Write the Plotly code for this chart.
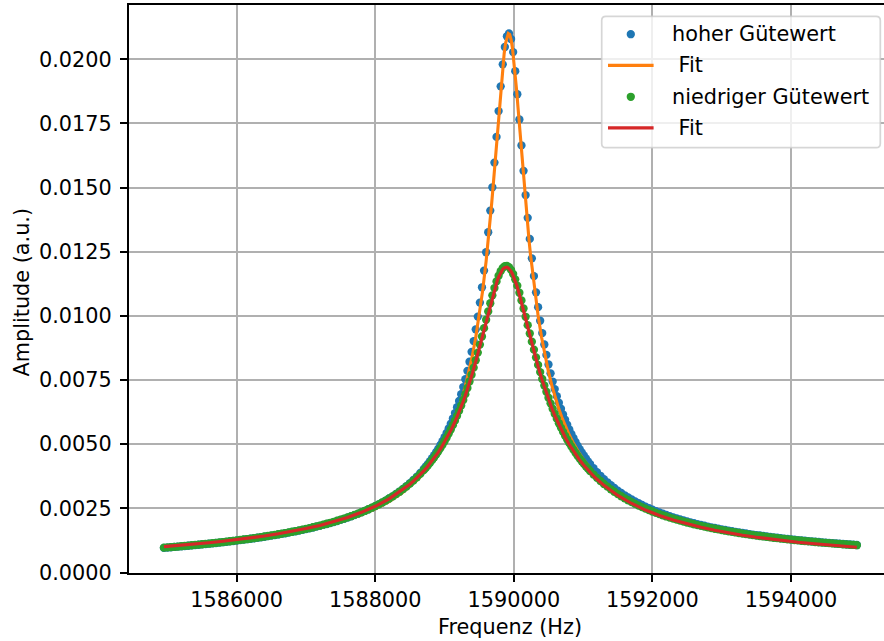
import plotly.graph_objects as go

# ---------------- data ----------------
# frequency sweep of the measurement (Hz): 50 Hz steps in the tails, 30 Hz around the resonance
FREQ_DATA = (list(range(1584950, 1588651, 50))
             + list(range(1588700, 1591101, 30))
             + list(range(1591150, 1594951, 50)))

AMP_HIGH_Q = [
    0.000962,
    0.000973, 0.000984, 0.000995, 0.001007, 0.001019, 0.001031, 0.001043, 0.001055, 0.001068, 0.001081,
    0.001094, 0.001108, 0.001122, 0.001136, 0.001150, 0.001165, 0.001180, 0.001196, 0.001212, 0.001228,
    0.001245, 0.001262, 0.001279, 0.001297, 0.001316, 0.001334, 0.001354, 0.001374, 0.001394, 0.001415,
    0.001437, 0.001459, 0.001482, 0.001506, 0.001530, 0.001555, 0.001581, 0.001607, 0.001635, 0.001663,
    0.001692, 0.001722, 0.001754, 0.001786, 0.001820, 0.001854, 0.001890, 0.001928, 0.001967, 0.002007,
    0.002049, 0.002093, 0.002138, 0.002186, 0.002235, 0.002287, 0.002341, 0.002398, 0.002457, 0.002520,
    0.002585, 0.002654, 0.002726, 0.002803, 0.002883, 0.002968, 0.003059, 0.003155, 0.003256, 0.003365,
    0.003481, 0.003604, 0.003737, 0.003879,
    0.004033, 0.004131, 0.004233, 0.004341, 0.004454, 0.004573, 0.004698, 0.004830, 0.004969, 0.005117,
    0.005273, 0.005438, 0.005614, 0.005801, 0.006000, 0.006213, 0.006440, 0.006684, 0.006946, 0.007227,
    0.007531, 0.007858, 0.008214, 0.008599, 0.009018, 0.009475, 0.009973, 0.010518, 0.011115, 0.011767,
    0.012481, 0.013259, 0.014104, 0.015012, 0.015975, 0.016976, 0.017982, 0.018947, 0.019804, 0.020479,
    0.020897, 0.021006, 0.020791, 0.020281, 0.019537, 0.018637, 0.017653, 0.016644, 0.015654, 0.014708,
    0.013822, 0.013000, 0.012244, 0.011552, 0.010919, 0.010341, 0.009813, 0.009330, 0.008887, 0.008480,
    0.008106, 0.007761, 0.007442, 0.007147, 0.006873, 0.006618, 0.006381, 0.006159, 0.005952, 0.005758,
    0.005575, 0.005404, 0.005242, 0.005090, 0.004946, 0.004810, 0.004681, 0.004559, 0.004442, 0.004332,
    0.004227,
    0.004062, 0.003910, 0.003769, 0.003637, 0.003515, 0.003400, 0.003293, 0.003192, 0.003098, 0.003009,
    0.002925, 0.002845, 0.002770, 0.002699, 0.002631, 0.002567, 0.002506, 0.002448, 0.002392, 0.002339,
    0.002289, 0.002240, 0.002194, 0.002150, 0.002107, 0.002066, 0.002027, 0.001990,
    0.001953, 0.001919, 0.001885, 0.001853, 0.001822, 0.001791, 0.001762, 0.001734, 0.001707, 0.001681,
    0.001656, 0.001631, 0.001607, 0.001584, 0.001562, 0.001540, 0.001519, 0.001499, 0.001479, 0.001460,
    0.001441, 0.001423, 0.001405, 0.001388, 0.001371, 0.001355, 0.001339, 0.001323, 0.001308, 0.001294,
    0.001279, 0.001265, 0.001252, 0.001238, 0.001225, 0.001213, 0.001200, 0.001188, 0.001177, 0.001165,
    0.001154, 0.001143, 0.001132, 0.001121, 0.001111, 0.001101, 0.001091, 0.001082,
    0.001072,
]

AMP_LOW_Q = [
    0.000967,
    0.000978, 0.000989, 0.001001, 0.001012, 0.001024, 0.001036, 0.001048, 0.001061, 0.001074, 0.001087,
    0.001100, 0.001114, 0.001128, 0.001142, 0.001157, 0.001171, 0.001187, 0.001202, 0.001218, 0.001235,
    0.001251, 0.001269, 0.001286, 0.001304, 0.001323, 0.001342, 0.001361, 0.001381, 0.001402, 0.001423,
    0.001445, 0.001467, 0.001490, 0.001514, 0.001538, 0.001563, 0.001589, 0.001616, 0.001643, 0.001672,
    0.001701, 0.001731, 0.001763, 0.001795, 0.001829, 0.001863, 0.001900, 0.001937, 0.001976, 0.002016,
    0.002058, 0.002102, 0.002147, 0.002194, 0.002244, 0.002295, 0.002349, 0.002405, 0.002464, 0.002525,
    0.002590, 0.002658, 0.002729, 0.002804, 0.002883, 0.002967, 0.003055, 0.003148, 0.003247, 0.003351,
    0.003463, 0.003581, 0.003708, 0.003843,
    0.003987, 0.004079, 0.004175, 0.004275, 0.004379, 0.004488, 0.004602, 0.004722, 0.004847, 0.004978,
    0.005116, 0.005261, 0.005413, 0.005573, 0.005741, 0.005918, 0.006104, 0.006299, 0.006506, 0.006723,
    0.006951, 0.007191, 0.007443, 0.007707, 0.007983, 0.008272, 0.008571, 0.008881, 0.009199, 0.009523,
    0.009850, 0.010175, 0.010494, 0.010800, 0.011086, 0.011344, 0.011566, 0.011743, 0.011870, 0.011939,
    0.011950, 0.011900, 0.011793, 0.011632, 0.011425, 0.011179, 0.010903, 0.010603, 0.010288, 0.009965,
    0.009639, 0.009314, 0.008995, 0.008683, 0.008381, 0.008089, 0.007810, 0.007542, 0.007287, 0.007044,
    0.006812, 0.006592, 0.006383, 0.006185, 0.005996, 0.005817, 0.005647, 0.005485, 0.005331, 0.005185,
    0.005045, 0.004913, 0.004786, 0.004665, 0.004550, 0.004440, 0.004335, 0.004234, 0.004138, 0.004046,
    0.003957,
    0.003818, 0.003688, 0.003566, 0.003451, 0.003344, 0.003243, 0.003147, 0.003057, 0.002972, 0.002892,
    0.002816, 0.002744, 0.002675, 0.002610, 0.002547, 0.002488, 0.002432, 0.002378, 0.002326, 0.002277,
    0.002229, 0.002184, 0.002141, 0.002099, 0.002059, 0.002020, 0.001983, 0.001948,
    0.001913, 0.001880, 0.001848, 0.001817, 0.001788, 0.001759, 0.001731, 0.001704, 0.001678, 0.001653,
    0.001629, 0.001605, 0.001582, 0.001560, 0.001539, 0.001518, 0.001497, 0.001478, 0.001459, 0.001440,
    0.001422, 0.001404, 0.001387, 0.001371, 0.001354, 0.001338, 0.001323, 0.001308, 0.001293, 0.001279,
    0.001265, 0.001252, 0.001238, 0.001226, 0.001213, 0.001201, 0.001189, 0.001177, 0.001165, 0.001154,
    0.001143, 0.001132, 0.001122, 0.001112, 0.001101, 0.001092, 0.001082, 0.001073,
    0.001063,
]

# frequencies at which the fit curves are drawn
FREQ_FIT = ([1584950]
            + list(range(1585000, 1588401, 200))
            + list(range(1588500, 1589601, 50))
            + list(range(1589620, 1590241, 20))
            + list(range(1590300, 1591301, 50))
            + list(range(1591500, 1594901, 200))
            + [1594950])

FIT_HIGH_Q = [
    0.000920,
    0.000931, 0.000974, 0.001022, 0.001073, 0.001130, 0.001191, 0.001259, 0.001335, 0.001419, 0.001514,
    0.001621, 0.001744, 0.001885, 0.002049, 0.002244, 0.002478, 0.002765, 0.003123,
    0.003339, 0.003458, 0.003586, 0.003723, 0.003870, 0.004030, 0.004203, 0.004391, 0.004596, 0.004820,
    0.005066, 0.005338, 0.005640, 0.005975, 0.006351, 0.006775, 0.007255, 0.007802, 0.008431, 0.009156,
    0.010000, 0.010985, 0.012137,
    0.012650, 0.013195, 0.013772, 0.014380, 0.015019, 0.015684, 0.016371, 0.017071, 0.017773, 0.018460,
    0.019112, 0.019707, 0.020218, 0.020619, 0.020887, 0.021005, 0.020966, 0.020771, 0.020435, 0.019976,
    0.019421, 0.018794, 0.018122, 0.017426, 0.016725, 0.016030, 0.015354, 0.014702, 0.014078, 0.013486,
    0.012926, 0.012397,
    0.010994, 0.010010, 0.009168, 0.008443, 0.007816, 0.007270, 0.006791, 0.006369, 0.005994, 0.005659,
    0.005359, 0.005088, 0.004843, 0.004620, 0.004416, 0.004230, 0.004058, 0.003900, 0.003753, 0.003617,
    0.003491,
    0.003063, 0.002730, 0.002463, 0.002244, 0.002063, 0.001909, 0.001778, 0.001664, 0.001565, 0.001478,
    0.001401, 0.001332, 0.001271, 0.001215, 0.001165, 0.001119, 0.001078, 0.001040,
    0.001030,
]

FIT_LOW_Q = [
    0.001008,
    0.001018, 0.001061, 0.001108, 0.001159, 0.001216, 0.001277, 0.001346, 0.001422, 0.001507, 0.001603,
    0.001711, 0.001836, 0.001979, 0.002147, 0.002345, 0.002581, 0.002870, 0.003229,
    0.003442, 0.003559, 0.003686, 0.003818, 0.003961, 0.004114, 0.004279, 0.004456, 0.004648, 0.004854,
    0.005079, 0.005322, 0.005586, 0.005874, 0.006187, 0.006529, 0.006901, 0.007306, 0.007744, 0.008217,
    0.008720, 0.009249, 0.009792,
    0.010010, 0.010226, 0.010437, 0.010644, 0.010842, 0.011031, 0.011207, 0.011368, 0.011512, 0.011636,
    0.011738, 0.011817, 0.011870, 0.011897, 0.011897, 0.011870, 0.011817, 0.011738, 0.011636, 0.011512,
    0.011368, 0.011207, 0.011031, 0.010842, 0.010644, 0.010437, 0.010226, 0.010010, 0.009792, 0.009574,
    0.009357, 0.009142,
    0.008515, 0.008024, 0.007565, 0.007140, 0.006749, 0.006389, 0.006059, 0.005756, 0.005478, 0.005222,
    0.004987, 0.004770, 0.004569, 0.004384, 0.004211, 0.004051, 0.003902, 0.003763, 0.003633, 0.003511,
    0.003397,
    0.003004, 0.002690, 0.002434, 0.002222, 0.002043, 0.001891, 0.001759, 0.001645, 0.001544, 0.001455,
    0.001375, 0.001304, 0.001240, 0.001181, 0.001128, 0.001080, 0.001035, 0.000994,
    0.000984,
]

SERIES_NAMES = ["hoher Gütewert", "\u00a0Fit", "niedriger Gütewert", "\u00a0Fit"]
X_TICKS = [1586000, 1588000, 1590000, 1592000, 1594000]
X_TICK_TEXT = ["1586000", "1588000", "1590000", "1592000", "1594000"]
Y_TICKS = [0.0, 0.0025, 0.005, 0.0075, 0.01, 0.0125, 0.015, 0.0175, 0.02]
Y_TICK_TEXT = ["0.0000", "0.0025", "0.0050", "0.0075", "0.0100", "0.0125", "0.0150", "0.0175", "0.0200"]
X_TITLE = "Frequenz (Hz)"
Y_TITLE = "Amplitude (a.u.)"

assert len(FREQ_DATA) == len(AMP_HIGH_Q) == len(AMP_LOW_Q), (len(FREQ_DATA), len(AMP_HIGH_Q), len(AMP_LOW_Q))
assert len(FREQ_FIT) == len(FIT_HIGH_Q) == len(FIT_LOW_Q), (len(FREQ_FIT), len(FIT_HIGH_Q), len(FIT_LOW_Q))

# ---------------- styling ----------------
BLUE, ORANGE, GREEN, RED = "#1f77b4", "#ff7f0e", "#2ca02c", "#d62728"
FONT = "DejaVu Sans"
FS = 20.8
W, H = 884, 641
ML, MR, MT, MB = 129, 0, 5, 68
PW, PH = W - ML - MR, H - MT - MB
X_RANGE = [1584446, 1595342]
Y_RANGE = [-0.0000195, 0.022116]
MARKER = 8.3
LW = 3.1


def pxx(px):
    return (px - ML) / PW


def pxy(py):
    return (H - MB - py) / PH


fig = go.Figure()
fig.add_trace(go.Scatter(x=FREQ_DATA, y=AMP_HIGH_Q, mode="markers", name=SERIES_NAMES[0],
                         marker=dict(size=MARKER, color=BLUE, line=dict(width=0)), showlegend=False))
fig.add_trace(go.Scatter(x=FREQ_FIT, y=FIT_HIGH_Q, mode="lines", name=SERIES_NAMES[1],
                         line=dict(color=ORANGE, width=LW), showlegend=False))
fig.add_trace(go.Scatter(x=FREQ_DATA, y=AMP_LOW_Q, mode="markers", name=SERIES_NAMES[2],
                         marker=dict(size=MARKER, color=GREEN, line=dict(width=0)), showlegend=False))
fig.add_trace(go.Scatter(x=FREQ_FIT, y=FIT_LOW_Q, mode="lines", name=SERIES_NAMES[3],
                         line=dict(color=RED, width=LW), showlegend=False))

axis_common = dict(
    showline=True, linecolor="black", linewidth=1.67,
    ticks="outside", ticklen=7.3, tickwidth=1.67, tickcolor="black",
    showgrid=True, gridcolor="#b0b0b0", gridwidth=1.67,
    zeroline=False,
    tickfont=dict(family=FONT, size=FS, color="black"),
)
fig.update_xaxes(range=X_RANGE, tickmode="array", tickvals=X_TICKS, ticktext=X_TICK_TEXT,
                 mirror=True, **axis_common)
fig.update_yaxes(range=Y_RANGE, tickmode="array", tickvals=Y_TICKS, ticktext=Y_TICK_TEXT,
                 mirror=False, ticklabelstandoff=4, **axis_common)

annotations = [
    dict(text=X_TITLE, xref="paper", yref="paper", x=pxx(510.2), y=pxy(626.7),
         xanchor="center", yanchor="middle", showarrow=False,
         font=dict(family=FONT, size=FS, color="black")),
    dict(text=Y_TITLE, xref="paper", yref="paper", x=pxx(21.5), y=pxy(292.0),
         xanchor="center", yanchor="middle", showarrow=False, textangle=-90,
         font=dict(family=FONT, size=FS, color="black")),
]

# ---- legend drawn like matplotlib's (rounded, semi-transparent frame) ----
LX0, LX1, LY0, LY1, R = 601.7, 880.3, 16.4, 147.7, 4.2
rx, ry = R / PW, R / PH
x0, x1, y0, y1 = pxx(LX0), pxx(LX1), pxy(LY0), pxy(LY1)
path = (f"M {x0+rx},{y0} L {x1-rx},{y0} Q {x1},{y0} {x1},{y0-ry} "
        f"L {x1},{y1+ry} Q {x1},{y1} {x1-rx},{y1} L {x0+rx},{y1} Q {x0},{y1} {x0},{y1+ry} "
        f"L {x0},{y0-ry} Q {x0},{y0} {x0+rx},{y0} Z")
shapes = [dict(type="path", path=path, xref="paper", yref="paper", layer="above",
               fillcolor="rgba(255,255,255,0.8)", line=dict(color="rgba(204,204,204,0.8)", width=1.7))]

ROWS = [34.2, 65.4, 96.8, 127.9]
HX0, HX1 = 608.0, 653.6
HCX = (HX0 + HX1) / 2
TEXT_X = 670.2
kinds = [("dot", BLUE), ("line", ORANGE), ("dot", GREEN), ("line", RED)]
for (kind, col), ry_px, label in zip(kinds, ROWS, SERIES_NAMES):
    if kind == "dot":
        r = MARKER / 2
        shapes.append(dict(type="circle", xref="paper", yref="paper", layer="above",
                           x0=pxx(HCX - r), x1=pxx(HCX + r), y0=pxy(ry_px - r), y1=pxy(ry_px + r),
                           fillcolor=col, line=dict(width=0)))
    else:
        shapes.append(dict(type="line", xref="paper", yref="paper", layer="above",
                           x0=pxx(HX0), x1=pxx(HX1), y0=pxy(ry_px), y1=pxy(ry_px),
                           line=dict(color=col, width=LW)))
    annotations.append(dict(text=label, xref="paper", yref="paper", x=pxx(TEXT_X), y=pxy(ry_px),
                            xanchor="left", yanchor="middle", showarrow=False,
                            font=dict(family=FONT, size=FS, color="black")))

fig.update_layout(
    width=W, height=H,
    margin=dict(l=ML, r=MR, t=MT, b=MB, pad=0),
    paper_bgcolor="white", plot_bgcolor="white",
    font=dict(family=FONT, size=FS, color="black"),
    showlegend=False,
    shapes=shapes, annotations=annotations,
)

fig.write_html("out.html", config={"displayModeBar": False})
